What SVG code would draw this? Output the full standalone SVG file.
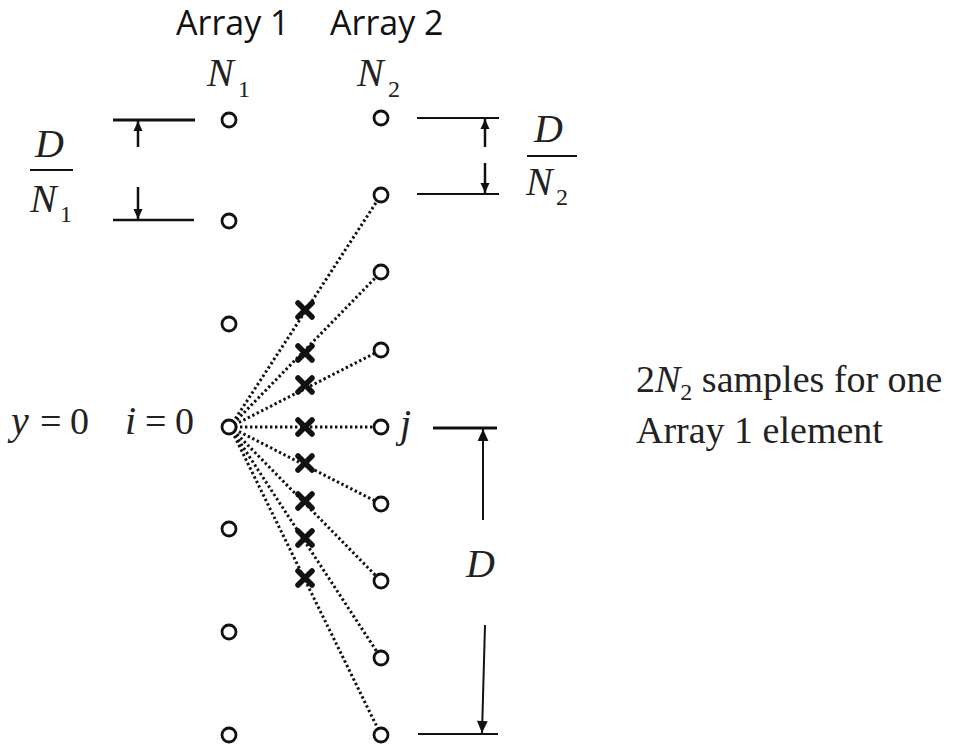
<svg xmlns="http://www.w3.org/2000/svg" width="958" height="748" viewBox="0 0 958 748">
<defs>
<style>
.sans{font-family:"Open Sans","Noto Sans","Liberation Sans",sans-serif;font-size:34px;fill:#111}
.mi{font-family:"Liberation Serif","Times New Roman",serif;font-style:italic;font-size:40px;fill:#222}
.rm{font-family:"Liberation Serif","Times New Roman",serif;font-size:38px;fill:#222}
.sub{font-family:"Liberation Serif","Times New Roman",serif;font-size:24px;fill:#222}
.el{fill:#fff;stroke:#111;stroke-width:2.8}
.x{stroke:#111;stroke-width:5.5;stroke-linecap:round}
.dot{stroke:#111;stroke-width:3;stroke-dasharray:2.4 2.6;fill:none}
.dim{stroke:#111;stroke-width:2.5;fill:none}
.thin{stroke:#111;stroke-width:2;fill:none}
</style>
<marker id="ah" viewBox="0 0 10 10" refX="10" refY="5" markerWidth="11" markerHeight="10" markerUnits="userSpaceOnUse" orient="auto">
<path d="M0,0.5 L10,5 L0,9.5 z" fill="#111"/>
</marker>
<marker id="ahb" viewBox="0 0 10 10" refX="10" refY="5" markerWidth="14" markerHeight="12" markerUnits="userSpaceOnUse" orient="auto">
<path d="M0,0.5 L10,5 L0,9.5 z" fill="#111"/>
</marker>
</defs>

<g id="connectors">
<line class="dot" x1="230" y1="427" x2="381" y2="195"/>
<line class="dot" x1="230" y1="427" x2="381" y2="272"/>
<line class="dot" x1="230" y1="427" x2="381" y2="350"/>
<line class="dot" x1="230" y1="427" x2="381" y2="427"/>
<line class="dot" x1="230" y1="427" x2="381" y2="504"/>
<line class="dot" x1="230" y1="427" x2="381" y2="581"/>
<line class="dot" x1="230" y1="427" x2="381" y2="658"/>
<line class="dot" x1="230" y1="427" x2="381" y2="735"/>
</g>

<g id="samples">
<path class="x" d="M298,303 l14,14 M312,303 l-14,14"/>
<path class="x" d="M298,346 l14,14 M312,346 l-14,14"/>
<path class="x" d="M298,378 l14,14 M312,378 l-14,14"/>
<path class="x" d="M298,420 l14,14 M312,420 l-14,14"/>
<path class="x" d="M298,456 l14,14 M312,456 l-14,14"/>
<path class="x" d="M298,494 l14,14 M312,494 l-14,14"/>
<path class="x" d="M298,531 l14,14 M312,531 l-14,14"/>
<path class="x" d="M298,571 l14,14 M312,571 l-14,14"/>
</g>

<g id="array1">
<text class="sans" x="176" y="35">Array 1</text>
<text class="mi" x="207" y="86">N</text><text class="sub" x="238" y="97">1</text>
<circle class="el" cx="229" cy="120" r="7"/>
<circle class="el" cx="229" cy="221" r="7"/>
<circle class="el" cx="229" cy="324" r="7"/>
<circle class="el" cx="229" cy="427" r="7"/>
<circle class="el" cx="229" cy="529" r="7"/>
<circle class="el" cx="229" cy="632" r="7"/>
<circle class="el" cx="229" cy="735" r="7"/>
</g>

<g id="array2">
<text class="sans" x="330" y="35">Array 2</text>
<text class="mi" x="357" y="86">N</text><text class="sub" x="388" y="97">2</text>
<circle class="el" cx="381" cy="118" r="7"/>
<circle class="el" cx="381" cy="195" r="7"/>
<circle class="el" cx="381" cy="272" r="7"/>
<circle class="el" cx="381" cy="350" r="7"/>
<circle class="el" cx="381" cy="427" r="7"/>
<circle class="el" cx="381" cy="504" r="7"/>
<circle class="el" cx="381" cy="581" r="7"/>
<circle class="el" cx="381" cy="658" r="7"/>
<circle class="el" cx="381" cy="735" r="7"/>
</g>

<g id="labels-origin">
<text class="mi" x="11" y="434">y</text>
<text class="rm" x="40" y="434">=</text>
<text class="rm" x="70" y="434">0</text>
<text class="mi" x="125" y="434">i</text>
<text class="rm" x="145" y="434">=</text>
<text class="rm" x="175" y="434">0</text>
<text class="mi" x="400" y="437">j</text>
</g>

<g id="dim-left">
<line class="dim" x1="113" y1="120" x2="195" y2="120" style="stroke-width:3"/>
<line class="dim" x1="113" y1="220" x2="194" y2="220"/>
<line class="dim" x1="138" y1="147" x2="138" y2="121" marker-end="url(#ah)"/>
<line class="dim" x1="138" y1="187" x2="138" y2="219" marker-end="url(#ah)"/>
<text class="mi" x="35" y="157">D</text>
<line class="thin" x1="30" y1="170" x2="73" y2="170"/>
<text class="mi" x="30" y="212">N</text><text class="sub" x="60" y="222">1</text>
</g>

<g id="dim-right">
<line class="thin" x1="417" y1="118" x2="499" y2="118"/>
<line class="thin" x1="417" y1="194" x2="499" y2="194"/>
<line class="dim" x1="485" y1="147" x2="485" y2="119" marker-end="url(#ah)"/>
<line class="dim" x1="485" y1="163" x2="485" y2="193" marker-end="url(#ah)"/>
<text class="mi" x="534" y="142">D</text>
<line class="thin" x1="527" y1="156" x2="577" y2="156"/>
<text class="mi" x="526" y="195">N</text><text class="sub" x="556" y="205">2</text>
</g>

<g id="dim-D">
<line class="dim" x1="433" y1="428" x2="497" y2="428" style="stroke-width:3"/>
<line class="thin" x1="418" y1="734" x2="498" y2="734"/>
<line class="thin" x1="483" y1="520" x2="483" y2="429" marker-end="url(#ahb)"/>
<line class="thin" x1="485" y1="625" x2="482" y2="733" marker-end="url(#ahb)"/>
<text class="mi" x="466" y="577">D</text>
</g>

<g id="note">
<text class="rm" x="636" y="392"><tspan>2</tspan><tspan font-style="italic">N</tspan><tspan font-size="24" dy="8">2</tspan><tspan dy="-8"> samples for one</tspan></text>
<text class="rm" x="636" y="443">Array 1 element</text>
</g>
</svg>
